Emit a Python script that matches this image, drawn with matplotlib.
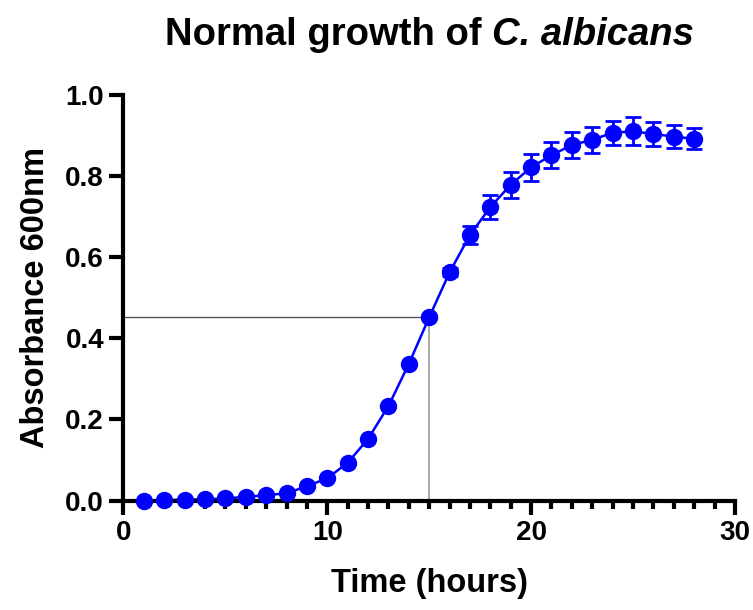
import matplotlib
matplotlib.use("Agg")
import matplotlib.pyplot as plt
from matplotlib.ticker import MultipleLocator

plt.rcParams['font.family'] = ['Liberation Sans', 'DejaVu Sans']
plt.rcParams['font.weight'] = 'bold'

time_h = [1, 2, 3, 4, 5, 6, 7, 8, 9, 10, 11, 12, 13, 14, 15, 16, 17, 18, 19, 20,
          21, 22, 23, 24, 25, 26, 27, 28]
absorbance = [0.000, 0.001, 0.002, 0.003, 0.005, 0.009, 0.013, 0.018, 0.035, 0.055,
              0.093, 0.152, 0.233, 0.337, 0.452, 0.563, 0.655, 0.724, 0.779, 0.822,
              0.852, 0.877, 0.890, 0.907, 0.911, 0.904, 0.898, 0.892]
sd = [0.0, 0.0, 0.0, 0.0, 0.0, 0.0, 0.0, 0.0, 0.0, 0.0,
      0.0, 0.0, 0.0, 0.0, 0.005, 0.01, 0.023, 0.030, 0.032, 0.034,
      0.032, 0.033, 0.032, 0.030, 0.035, 0.029, 0.028, 0.026]
ref_x = 15
ref_y = 0.452
title_plain = 'Normal growth of'
title_italic = 'C. albicans'

fig = plt.figure(figsize=(7.53, 6.10), dpi=100)
ax = fig.add_axes([0.164, 0.1795, 0.812, 0.6645])

ax.plot([0, ref_x], [ref_y, ref_y], color='#555555', lw=1.0, zorder=1)
ax.plot([ref_x, ref_x], [0, ref_y], color='#999999', lw=1.2, zorder=1)

ax.plot(time_h, absorbance, color='#0000FF', lw=1.8, zorder=2)
ax.errorbar(time_h, absorbance, yerr=sd, fmt='o', color='#0000FF', ms=11.5,
            ecolor='#0000FF', elinewidth=2, capsize=6, capthick=2, zorder=3,
            clip_on=False)

ax.set_xlim(0, 30)
ax.set_ylim(0, 1.0)
ax.xaxis.set_major_locator(MultipleLocator(10))
ax.xaxis.set_minor_locator(MultipleLocator(1))
ax.set_yticks([0.0, 0.2, 0.4, 0.6, 0.8, 1.0])
ax.set_yticklabels(['0.0', '0.2', '0.4', '0.6', '0.8', '1.0'])

for s in ['top', 'right']:
    ax.spines[s].set_visible(False)
for s in ['left', 'bottom']:
    ax.spines[s].set_linewidth(3)
    ax.spines[s].set_color('black')

ax.tick_params(axis='both', which='major', length=10, width=3, labelsize=20, pad=4)
ax.tick_params(axis='x', which='minor', length=6, width=3)
for lab in ax.get_xticklabels() + ax.get_yticklabels():
    lab.set_fontweight('bold')

ax.set_xlabel('Time (hours)', fontsize=23.5, fontweight='bold', labelpad=16)
ax.set_ylabel('Absorbance 600nm', fontsize=23.5, fontweight='bold', labelpad=10)

# Title: plain + italic parts, centred over the axes
fs = 27.5
W, H = fig.get_size_inches() * fig.dpi
t1 = fig.text(0, 0, title_plain, fontsize=fs, fontweight='bold', va='baseline', ha='left')
t2 = fig.text(0, 0, title_italic, fontsize=fs, fontweight='bold', style='italic',
              va='baseline', ha='left')
fig.canvas.draw()
r = fig.canvas.get_renderer()
w1 = t1.get_window_extent(r).width
w2 = t2.get_window_extent(r).width
space = 0.278 * fs * fig.dpi / 72
total = w1 + space + w2
bb = ax.get_position()
cx = (bb.x0 + bb.x1) / 2 * W
x1 = cx - total / 2
base_y = 565
t1.set_position((x1 / W, base_y / H))
t2.set_position(((x1 + w1 + space) / W, base_y / H))

fig.savefig('out.png', dpi=100)
